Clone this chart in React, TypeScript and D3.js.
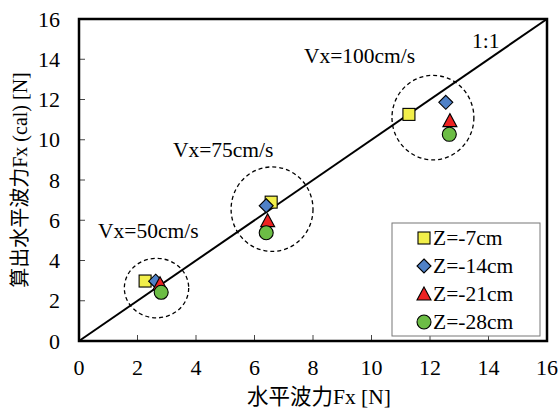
import React from "react";
import * as d3 from "d3";

const xTicks = [0, 2, 4, 6, 8, 10, 12, 14, 16];
const yTicks = [0, 2, 4, 6, 8, 10, 12, 14, 16];

const seriesNames = ["Z=-7cm", "Z=-14cm", "Z=-21cm", "Z=-28cm"];
const seriesColors = ["#f2ef4a", "#4f81c7", "#ee2222", "#6cbd45"];
const seriesShapes = ["square", "diamond", "triangle", "circle"];

const z7 = [[2.26, 2.98], [6.57, 6.9], [11.28, 11.26]];
const z14 = [[2.62, 2.97], [6.4, 6.72], [12.54, 11.86]];
const z21 = [[2.77, 2.85], [6.45, 5.98], [12.68, 10.95]];
const z28 = [[2.81, 2.42], [6.4, 5.38], [12.66, 10.27]];
const seriesData = [z7, z14, z21, z28];

const groupLabels = ["Vx=50cm/s", "Vx=75cm/s", "Vx=100cm/s"];
const groupLabelPos = [[0.65, 5.12], [3.21, 9.14], [7.69, 13.81]];
const groupCircles = [[2.65, 2.63, 1.1, 1.48], [6.6, 6.55, 1.4, 2.1], [12.1, 11.1, 1.4, 2.1]];

const W = 558, H = 411;
const left = 79, right = 547, top = 19, bottom = 341;
const FS = 21.5;
const TFS = 22;
const FONT = "'Liberation Serif', 'Times New Roman', 'Noto Sans CJK JP', serif";

function Marker({ shape, color, x, y }: { shape: string; color: string; x: number; y: number }) {
  const sw = 1.1;
  if (shape === "square")
    return <rect x={x - 6} y={y - 6} width={12} height={12} fill={color} stroke="#000" strokeWidth={sw} />;
  if (shape === "diamond")
    return <path d={`M${x},${y - 7} L${x + 7},${y} L${x},${y + 7} L${x - 7},${y} Z`} fill={color} stroke="#000" strokeWidth={sw} />;
  if (shape === "triangle")
    return <path d={`M${x},${y - 7} L${x + 7},${y + 6} L${x - 7},${y + 6} Z`} fill={color} stroke="#000" strokeWidth={sw} />;
  return <circle cx={x} cy={y} r={7} fill={color} stroke="#000" strokeWidth={sw} />;
}

export default function App() {
  const x = d3.scaleLinear().domain([0, 16]).range([left, right]);
  const y = d3.scaleLinear().domain([0, 16]).range([bottom, top]);
  const line = d3.line<number[]>().x((d) => x(d[0])).y((d) => y(d[1]));

  return (
    <svg width={W} height={H} style={{ position: "absolute", left: 0, top: 0, background: "#fff" }} fontFamily={FONT}>
      <rect x={0} y={0} width={W} height={H} fill="#fff" />
      {/* ticks inward */}
      {xTicks.slice(1, -1).map((t) => (
        <line key={"xt" + t} x1={x(t)} x2={x(t)} y1={bottom} y2={bottom - 6} stroke="#444" strokeWidth={1} />
      ))}
      {yTicks.slice(1, -1).map((t) => (
        <line key={"yt" + t} x1={left} x2={left + 6} y1={y(t)} y2={y(t)} stroke="#444" strokeWidth={1} />
      ))}
      {/* 1:1 line */}
      <path d={line([[0, 0], [16, 16]]) || ""} stroke="#000" strokeWidth={2} fill="none" />
      <text x={x(13.44)} y={y(14.56)} fontSize={FS}>1:1</text>
      {/* dashed circles */}
      {groupCircles.map((c, i) => (
        <ellipse key={"gc" + i} cx={x(c[0])} cy={y(c[1])} rx={x(c[2]) - x(0)} ry={y(0) - y(c[3])}
          fill="none" stroke="#000" strokeWidth={1.3} strokeDasharray="4,3" />
      ))}
      {groupLabels.map((g, i) => (
        <text key={"gl" + i} x={x(groupLabelPos[i][0])} y={y(groupLabelPos[i][1])} fontSize={FS}>{g}</text>
      ))}
      {/* data */}
      {seriesData.map((s, si) =>
        s.map((d, di) => (
          <Marker key={si + "-" + di} shape={seriesShapes[si]} color={seriesColors[si]} x={x(d[0])} y={y(d[1])} />
        ))
      )}
      {/* legend */}
      <rect x={392} y={223} width={148} height={113} fill="#fff" stroke="#777" strokeWidth={1} />
      {seriesNames.map((n, i) => (
        <g key={"lg" + i}>
          <Marker shape={seriesShapes[i]} color={seriesColors[i]} x={424} y={238 + i * 28} />
          <text x={433} y={238 + i * 28 + 6.5} fontSize={FS}>{n}</text>
        </g>
      ))}
      {/* frame */}
      <rect x={left} y={top} width={right - left} height={bottom - top} fill="none" stroke="#000" strokeWidth={2.5} />
      {/* tick labels */}
      {xTicks.map((t) => (
        <text key={"xl" + t} x={x(t)} y={375} fontSize={TFS} textAnchor="middle">{t}</text>
      ))}
      {yTicks.map((t) => (
        <text key={"yl" + t} x={60} y={y(t) + 7.5} fontSize={TFS} textAnchor="end">{t}</text>
      ))}
      {/* axis titles */}
      <text x={319} y={404} fontSize={FS} textAnchor="middle">水平波力Fx [N]</text>
      <text transform={`translate(27,${180}) rotate(-90)`} fontSize={20} textAnchor="middle">算出水平波力Fx (cal) [N]</text>
    </svg>
  );
}
